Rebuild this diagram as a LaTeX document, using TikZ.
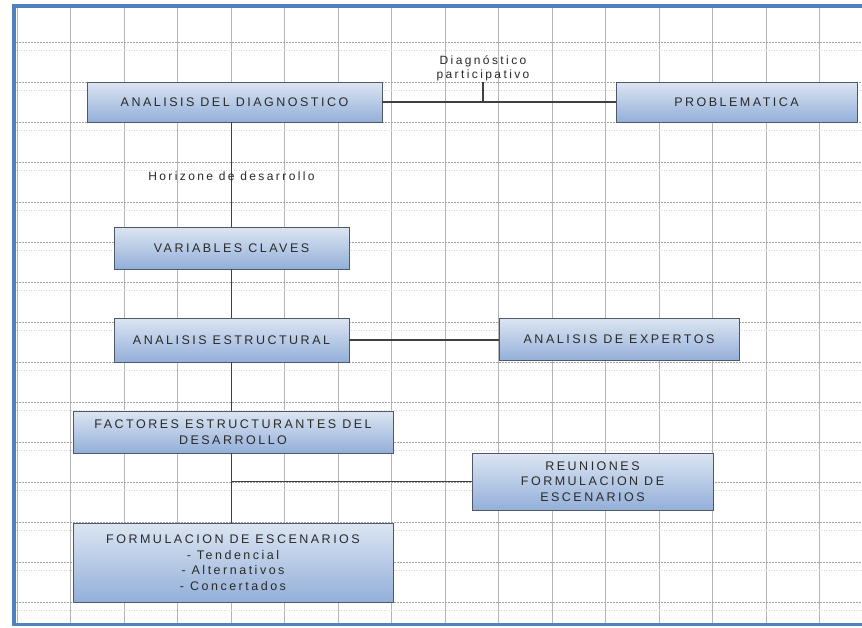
\documentclass[tikz,border=0pt]{standalone}
\usepackage{fontspec}
\setmainfont{Liberation Sans}[LetterSpace=20]
\definecolor{frameblue}{HTML}{4F81BD}
\definecolor{boxtop}{HTML}{DCE5F2}
\definecolor{boxbot}{HTML}{93AFD9}
\definecolor{boxline}{HTML}{4F5968}
\definecolor{txt}{HTML}{2A2A2A}
\definecolor{lnk}{HTML}{404040}
\definecolor{gv}{HTML}{B4B4B4}
\definecolor{gh}{HTML}{A4A4A4}
\definecolor{gm}{HTML}{D6D6D6}
\begin{document}
\begin{tikzpicture}[x=1pt,y=-1pt,
  box/.style={draw=boxline, line width=0.9pt, top color=boxtop, bottom color=boxbot,
    text=txt, align=center, inner sep=2pt, font=\fontsize{12.5}{15.5}\selectfont},
  conn/.style={draw=lnk, line width=1.1pt},
  lab/.style={text=txt, inner sep=1pt, font=\fontsize{12}{14}\selectfont},
  gridv/.style={draw=gv, line width=0.8pt},
  gridh/.style={draw=gh, line width=0.8pt, dash pattern=on 2pt off 1pt},
  gridm/.style={draw=gm, line width=0.6pt, dash pattern=on 1pt off 1.5pt}]
\useasboundingbox (0,0) rectangle (862,627);
\fill[white] (0,0) rectangle (862,627);
% grid
\foreach \i in {0,...,15} \draw[gridv] ({17+53.5*\i},8) -- ({17+53.5*\i},623);
\foreach \j in {0,...,14} {
  \draw[gridh] (16,{42+40*\j}) -- (862,{42+40*\j});
  \draw[gridm] (16,{50+40*\j}) -- (862,{50+40*\j});
}
% frame
\fill[frameblue] (12,4) rectangle (16,626);
\fill[frameblue] (12,4) rectangle (862,8);
\fill[frameblue] (12,623) rectangle (862,626);
% boxes
\node[box, minimum width=295pt, minimum height=40pt] (diag) at (234.5,102) {ANALISIS DEL DIAGNOSTICO};
\node[box, minimum width=241pt, minimum height=40pt] (prob) at (736.5,102) {PROBLEMATICA};
\node[box, minimum width=235pt, minimum height=42pt] (vars) at (231.5,248) {VARIABLES CLAVES};
\node[box, minimum width=235pt, minimum height=44pt] (estr) at (231.5,340) {ANALISIS ESTRUCTURAL};
\node[box, minimum width=240pt, minimum height=42pt] (expe) at (619,339.5) {ANALISIS DE EXPERTOS};
\node[box, minimum width=320pt, minimum height=42pt] (fact) at (233,432) {FACTORES ESTRUCTURANTES DEL\\DESARROLLO};
\node[box, minimum width=241pt, minimum height=57pt] (reun) at (592.5,481.5) {REUNIONES\\FORMULACION DE\\ESCENARIOS};
\node[box, minimum width=320pt, minimum height=79pt] (form) at (233,562.5) {FORMULACION DE ESCENARIOS\\- Tendencial\\- Alternativos\\- Concertados};
% connectors
\draw[conn] (vars.north |- diag.south) -- node[lab, pos=0.52] (hlab) {Horizone de desarrollo} (vars.north);
\draw[conn] (vars.south) -- (estr.north);
\draw[conn] (estr.south) -- (estr.south |- fact.north);
\draw[conn] (estr.south |- fact.south) -- (estr.south |- form.north);
\coordinate (j) at (estr.south |- reun.west);
\draw[conn] (j) -- (reun.west);
\draw[conn] (estr.east) -- (estr.east -| expe.west);
\draw[conn] (diag.east) -- (prob.west);
\node[lab, anchor=south, align=center] (dlab) at (483,82) {Diagnóstico\\participativo};
\draw[conn] (dlab.south) -- (dlab.south |- diag.east);
\end{tikzpicture}
\end{document}
